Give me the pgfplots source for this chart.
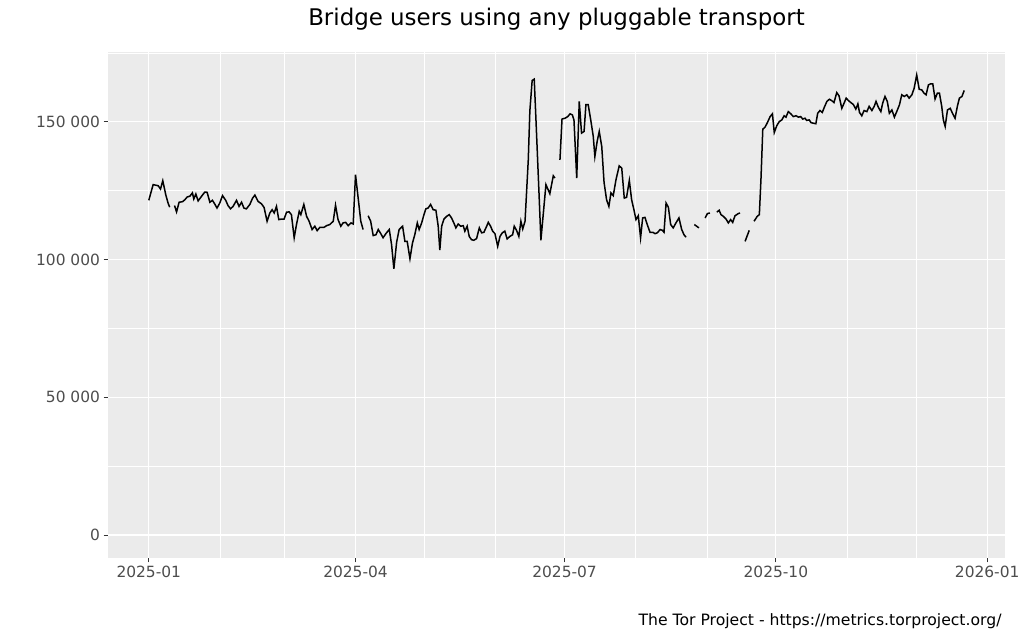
\documentclass[border=0pt]{standalone}
\usepackage{pgfplots}
\pgfplotsset{compat=1.18}
\usepackage{fontspec}
\setmainfont{DejaVu Sans}
\definecolor{panel}{HTML}{EBEBEB}
\definecolor{tickgrey}{HTML}{4D4D4D}
\definecolor{tickmark}{HTML}{333333}
\pgfplotstableread{
day users
0 121.5
1.9 127.2
3.0 127
4.1 126.8
5.1 125.6
6.1 128.6
7.4 123.5
8.4 120.5
9.1 119
10.1 nan
11.2 119.6
12.1 117.3
13.2 120.8
14.7 121
15.7 121.7
16.7 122.7
17.9 123
19.0 124.2
19.6 122
20.5 123.8
21.5 121.3
23.0 123
24.4 124.5
25.4 124.4
26.6 120.8
27.7 121.5
28.7 120.2
29.7 118.7
30.9 120.5
32.1 123.2
33.5 121.5
34.5 119.6
35.6 118.4
36.7 119.3
38.2 121.5
39.3 119.3
40.4 120.8
41.4 118.7
42.5 118.4
44.0 120
45.2 122.3
46.2 123.4
47.6 121.1
49.1 120.2
50.2 118.9
51.5 113.9
52.7 116.9
53.7 118.1
54.6 116.9
55.6 119.3
56.6 114.5
57.8 114.7
58.9 114.7
60.0 117.2
61.1 117.3
62.1 116.3
63.3 107.9
64.3 112.7
65.5 117.5
66.2 116.3
67.5 120
68.7 115.7
69.8 113.9
71.1 110.9
72.3 112.1
73.3 110.5
74.5 111.7
76.3 111.7
77.4 112.3
78.8 112.7
80.3 113.9
81.3 119.7
82.4 114.5
83.6 112.1
84.6 113.3
85.7 113.5
86.8 112.3
88.0 113.3
89.0 112.9
90.0 130.8
90.9 124.2
92.3 113.9
93.3 110.9
94.4 nan
95.5 115.9
96.6 113.9
97.7 108.7
98.9 109
99.9 110.9
101.0 109.4
102.0 107.9
103.2 109.4
104.7 110.9
105.7 105.4
106.7 96.6
107.9 106.3
109.0 110.9
110.5 112.1
111.5 106.6
112.5 106.6
113.7 100.3
114.8 106
115.8 109
116.9 113.3
117.7 110.9
118.8 113.3
119.8 116.3
120.6 118.4
121.6 118.7
122.7 120
123.8 118.1
125.0 117.9
126.0 112.1
126.7 103.4
127.5 112.1
128.5 114.7
129.7 115.7
130.8 116.3
131.8 115.1
132.8 113.3
133.7 111.5
134.7 112.9
135.8 112.1
136.9 112.3
137.6 110.3
138.6 112.1
139.5 108.4
140.5 107.2
141.5 107
142.7 107.6
143.9 111.5
144.9 109.7
145.9 109.9
147.1 112.1
147.8 113.5
148.8 112.1
149.7 110.3
150.7 109.4
151.9 104.8
152.9 108.4
153.9 109.7
155.0 110.3
156.0 107.5
157.2 108.4
158.4 109
159.1 112.1
160.1 110.6
161.1 108.4
162.0 113.9
162.8 111.1
163.8 113.9
165.2 136
165.9 154
166.9 165
167.8 165.5
168.5 151.9
170.0 121.7
170.7 107
172.9 127.2
174.6 123.9
176.1 130.4
176.8 129.6
177.9 nan
179.0 136.2
179.9 151
181.2 151.3
182.4 151.9
183.4 152.9
184.4 152.5
185.1 150.7
186.3 129.6
187.4 157.4
188.4 145.9
189.5 146.5
190.3 156.2
191.3 156.2
192.4 150.7
193.5 144.7
194.2 137.4
195.2 142.9
196.1 146.5
197.2 141
198.2 128
199.3 121.7
200.3 119.3
201.2 124.2
202.2 123.2
203.4 129
204.8 134
205.9 133.2
207.0 122.3
208.0 122.6
209.2 128.7
210.2 121.7
211.2 118.1
212.1 114.5
213.1 115.9
214.1 107.9
215.0 115.1
216.0 115.3
217.0 112.7
218.2 109.9
219.4 109.9
220.4 109.4
221.4 109.7
222.6 110.9
223.6 110.6
224.3 109.9
225.2 120.5
226.2 119
227.2 112.7
228.3 111.5
229.5 113.3
230.8 115.1
232.0 110.9
233.0 109
233.9 108.1
235.5 nan
237.5 112.7
238.5 112.1
239.5 111.5
240.8 nan
242.2 115.1
243.2 116.7
244.3 116.9
245.8 nan
247.3 117.2
248.3 117.9
249.1 116.3
250.1 115.7
251.3 114.7
252.3 113.3
253.3 114.5
254.2 113.5
255.2 115.9
256.7 116.7
257.4 116.9
258.5 nan
259.6 106.6
261.4 110.6
262.5 nan
263.5 113.9
264.9 115.7
265.8 116.3
266.5 129
267.3 147.3
268.3 148.1
269.3 149.7
270.5 151.9
271.5 152.9
272.3 146.1
273.4 148.6
274.5 150.1
275.6 150.7
276.6 152.2
277.4 151.7
278.4 153.7
279.5 152.9
280.6 151.9
281.8 152.2
282.8 151.7
283.8 151.9
284.7 151
285.7 151.3
286.4 150.5
287.5 150.7
288.3 149.7
289.3 149.5
290.4 149.3
291.2 153.1
292.2 154.1
293.2 153.4
294.1 155.3
295.2 157.4
296.3 158.2
297.3 157.7
298.3 157
299.5 160.6
300.5 159.4
301.7 154.9
302.7 156.8
303.6 158.6
304.6 157.7
305.6 157
306.7 156.3
307.8 154.6
308.7 156.5
309.4 153.4
310.4 152.2
311.4 154.1
312.6 153.7
313.6 155.6
314.8 154.1
315.8 155.6
316.6 157.4
317.6 155.3
318.7 153.7
319.5 156.8
320.5 159.2
321.5 157.4
322.4 153.1
323.5 154.3
324.6 151.7
325.6 153.7
326.8 156.2
327.8 159.8
328.9 159.2
330.0 159.8
331.0 158.6
332.2 159.8
333.2 162.2
334.3 167
335.4 161.8
336.5 161.6
337.5 160.4
338.4 159.8
339.4 163.4
340.4 163.8
341.3 163.8
342.3 158.3
343.3 160.4
344.2 160.4
345.2 155.6
345.9 150.7
346.7 148.3
347.7 154.3
348.9 154.9
350.0 152.9
351.0 151.3
352.0 155.6
352.9 158.6
354.0 159.2
355.0 161.4
}\usersdata
\begin{document}
\begin{tikzpicture}[x=1bp,y=1bp]
\useasboundingbox (0,0) rectangle (1024,640);
\begin{axis}[
  at={(108bp,82bp)}, anchor=south west,
  scale only axis, width=897bp, height=506bp,
  xmin=-17.75, xmax=372.75, ymin=-8.35, ymax=175.35,
  axis background/.style={fill=panel},
  axis line style={draw=none},
  xtick={0,90,181,273,365},
  xticklabels={2025-01,2025-04,2025-07,2025-10,2026-01},
  ytick={0,50,100,150},
  yticklabels={0,50 000,100 000,150 000},
  minor xtick={31,59,120,151,212,243,304,334},
  minor ytick={25,75,125,175},
  grid=both,
  major grid style={white, line width=1.2bp},
  minor grid style={white, line width=0.6bp},
  tick align=outside,
  major tick length=4.5bp, minor tick length=0pt,
  tick style={tickmark, line width=0.9bp},
  xtick pos=bottom, ytick pos=left,
  ticklabel style={font=\fontsize{15.5}{18}\selectfont, text=tickgrey},
  unbounded coords=jump,
]
\addplot[black, line width=1.5bp] table[x=day, y=users] {\usersdata};
\end{axis}
\node[font=\fontsize{23}{27}\selectfont] at (556.5,621) {Bridge users using any pluggable transport};
\node[font=\fontsize{15.7}{18}\selectfont, anchor=east] at (1005,19) {The Tor Project - https://metrics.torproject.org/};
\end{tikzpicture}
\end{document}
